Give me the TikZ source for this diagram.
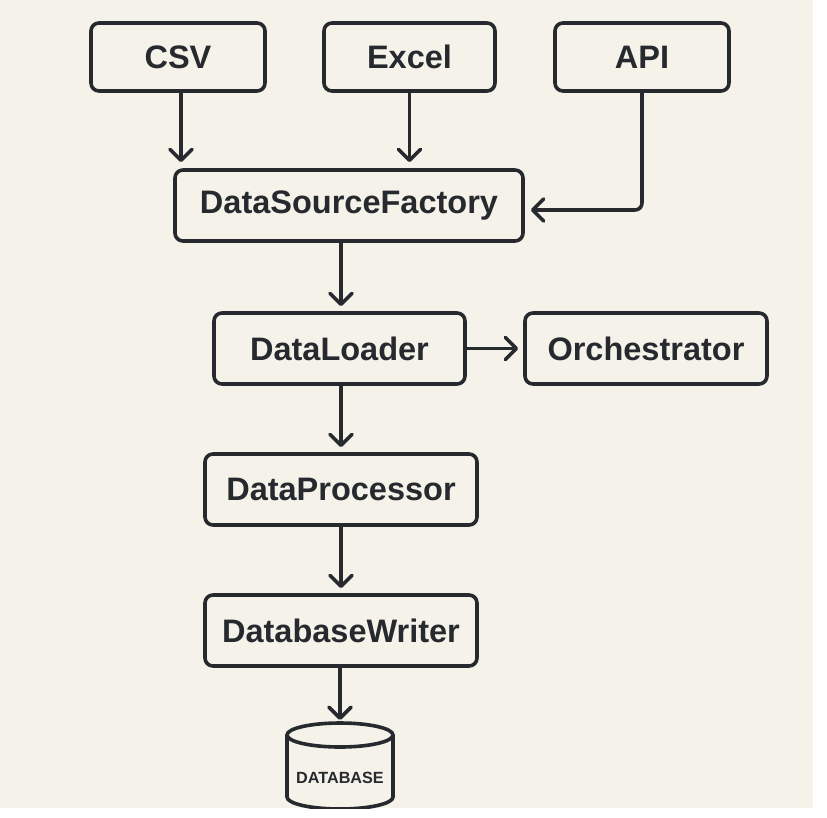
\documentclass[tikz,border=0pt]{standalone}
\usepackage{fontspec}
\setmainfont{Liberation Sans}
\usetikzlibrary{arrows.meta,calc}
\definecolor{bg}{HTML}{F5F2EA}
\definecolor{ink}{HTML}{26292D}
\begin{document}
\begin{tikzpicture}[x=1pt,y=-1pt,
  box/.style={draw=ink,line width=3.6pt,rounded corners=8pt,font=\bfseries\fontsize{32.5}{36}\selectfont,text=ink,inner sep=0pt},
  arr/.style={draw=ink,line width=3.6pt,-{Straight Barb[length=11pt,width=22pt,line cap=round,line join=round]}}]
\useasboundingbox (0,0) rectangle (827,817);
\fill[white] (0,0) rectangle (827,817);
\fill[bg] (0,0) rectangle (813,808);
\begin{scope}
\clip (0,0) rectangle (813,808);
\node[box,minimum width=174pt,minimum height=68pt] (csv) at (178,57) {CSV};
\node[box,minimum width=171pt,minimum height=68pt] (excel) at (409.5,57) {Excel};
\node[box,minimum width=174pt,minimum height=68pt] (api) at (642,57) {API};
\node[box,minimum width=348pt,minimum height=71pt] (dsf) at (349,205.5) {DataSourceFactory};
\node[box,minimum width=251pt,minimum height=71pt] (dl) at (339.5,348.5) {DataLoader};
\node[box,minimum width=242pt,minimum height=71pt] (orch) at (646,348.5) {Orchestrator};
\node[box,minimum width=272pt,minimum height=71pt] (dp) at (341,489.5) {DataProcessor};
\node[box,minimum width=272pt,minimum height=71pt] (dw) at (341,630.5) {DatabaseWriter};
% database cylinder
\coordinate (dbtop) at (340,722);
\draw[ink,line width=3.6pt] (287,735) -- (287,797) arc[start angle=180,end angle=0,x radius=53,y radius=12] -- (393,735);
\draw[ink,line width=3.6pt] (340,735) ellipse[x radius=53,y radius=12];
\node[font=\bfseries\fontsize{16.2}{18}\selectfont,text=ink,inner sep=0pt] (db) at (340,778) {DATABASE};
% connectors
\draw[arr,shorten >=6pt] ([xshift=3pt]csv.south) -- ([xshift=3pt]csv.south |- dsf.north);
\draw[arr,shorten >=6pt] (excel.south) -- (excel.south |- dsf.north);
\draw[arr,shorten >=6pt,rounded corners=7pt] (api.south) |- ([yshift=-4.5pt]dsf.east);
\draw[arr,shorten >=5pt] (dsf.south -| dp.north) -- (dl.north -| dp.north);
\draw[arr,shorten >=5pt] (dl.east) -- (orch.west);
\draw[arr,shorten >=5pt] (dl.south -| dp.north) -- (dp.north);
\draw[arr,shorten >=5pt] (dp.south) -- (dw.north);
\draw[arr,shorten >=2pt] (dw.south -| dbtop) -- (dbtop);
\end{scope}
\end{tikzpicture}
\end{document}
